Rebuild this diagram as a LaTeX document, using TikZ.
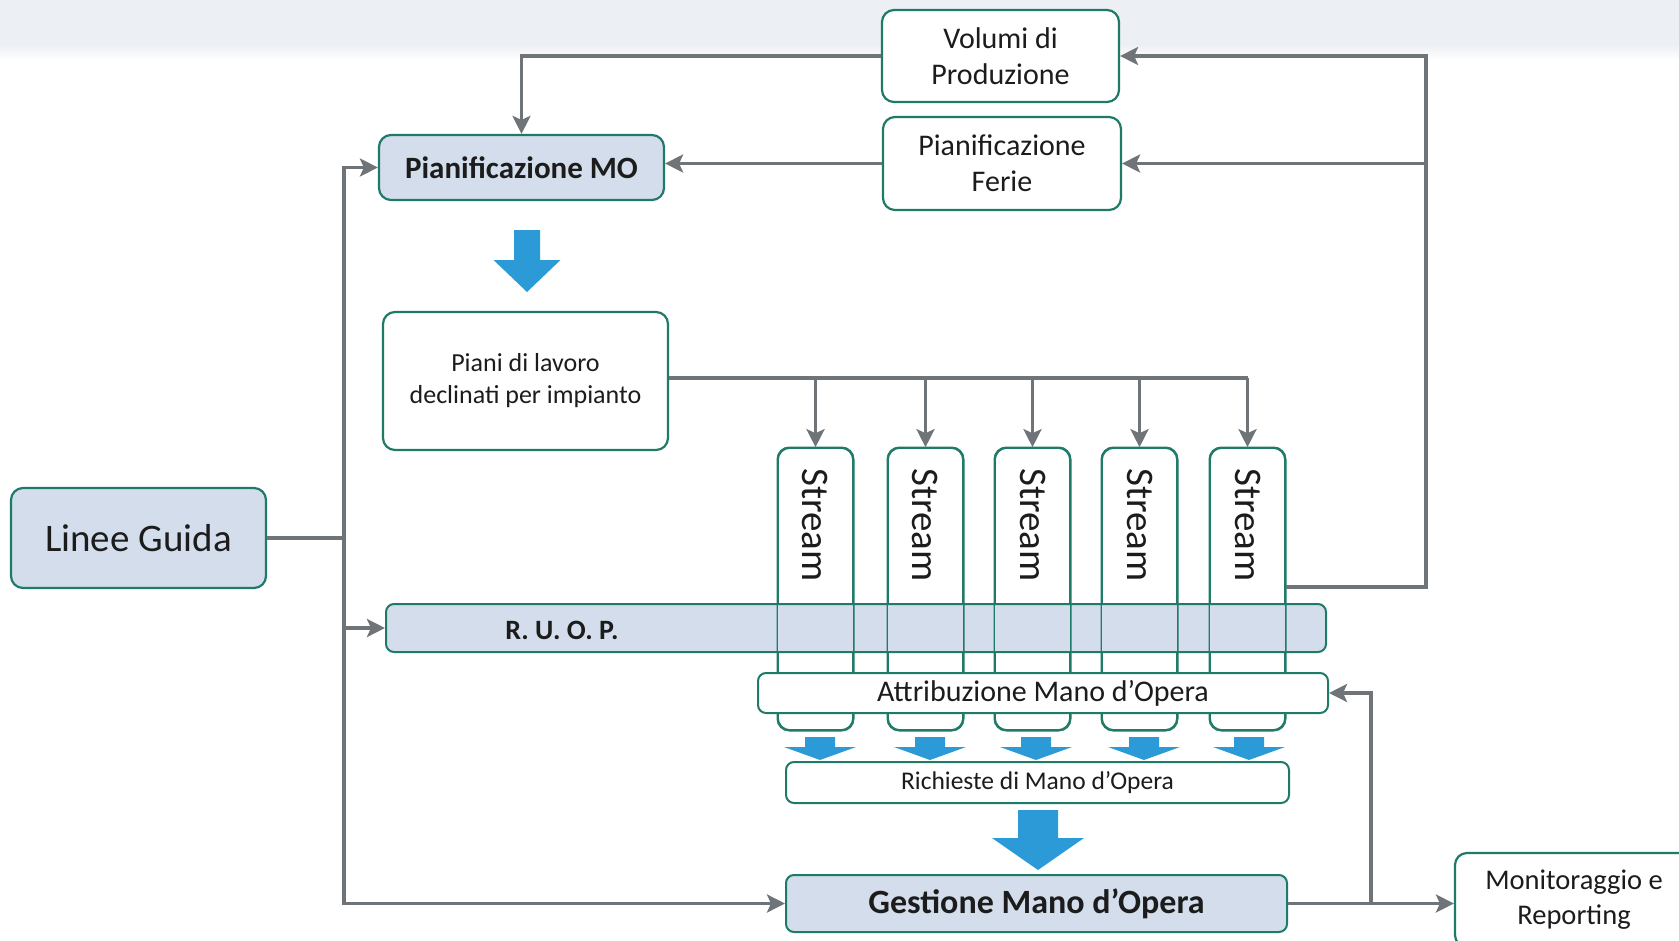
\documentclass[tikz,border=0pt]{standalone}
\usepackage{fontspec}
\setmainfont{Carlito}
\usetikzlibrary{arrows.meta,calc}
\definecolor{teal1}{HTML}{1F7A68}
\definecolor{lblue}{HTML}{D3DDEB}
\definecolor{cgray}{HTML}{6F7479}
\definecolor{abl}{HTML}{2B9AD6}
\definecolor{txt}{HTML}{1C1C1C}
\definecolor{band}{HTML}{ECEFF4}
\newcommand\blkarr[6]{%
  \fill[barrow] (#1-#3,#2) -- (#1+#3,#2) -- (#1+#3,#5) -- (#1+#4,#5) -- (#1,#6) -- (#1-#4,#5) -- (#1-#3,#5) -- cycle;}
\tikzset{
  box/.style={draw=teal1, line width=2.2pt, rounded corners=12pt, fill=white, text=txt, align=center, inner sep=0pt},
  fbox/.style={box, fill=lblue},
  streambox/.style={box, line width=1.6pt, minimum width=75pt, minimum height=282pt},
  streamline/.style={draw=teal1, line width=1.4pt, rounded corners=12pt},
  streamtext/.style={rotate=-90, text=txt, font=\fontsize{39}{44}\selectfont, inner sep=0pt},
  conn/.style={draw=cgray, line width=3.8pt},
  arr/.style={conn, -{Stealth[length=18pt,width=18pt,inset=4pt]}},
  barrow/.style={fill=abl},
}
\begin{document}
\begin{tikzpicture}[x=1pt,y=-1pt]
\useasboundingbox (0,0) rectangle (1679,940);
\fill[band] (0,0) rectangle (1679,44);
\shade[top color=band, bottom color=white] (0,44) rectangle (1679,60);

% boxes
\node[box, minimum width=237pt, minimum height=92pt, font=\fontsize{30}{36}\selectfont] (vol) at (1000.5,56) {Volumi di\\Produzione};
\node[box, minimum width=238pt, minimum height=93pt, font=\fontsize{30}{36}\selectfont] (fer) at (1002,163.5) {Pianificazione\\Ferie};
\node[fbox, minimum width=285pt, minimum height=65pt, font=\fontsize{31}{36}\selectfont\bfseries] (pmo) at (521.5,167.5) {Pianificazione MO};
\node[box, minimum width=285pt, minimum height=138pt, font=\fontsize{26}{32}\selectfont] (pia) at (525.5,381) {Piani di lavoro\\declinati per impianto};
\node[fbox, minimum width=255pt, minimum height=100pt, font=\fontsize{39}{44}\selectfont] (lg) at (138.5,538) {Linee Guida};

% streams
\foreach \n/\x in {1/815.5,2/925.5,3/1032.5,4/1139.5,5/1247.5}{
  \node[streambox] (s\n) at (\x,589) {};
}
\node[fbox, line width=2pt, rounded corners=8pt, minimum width=940pt, minimum height=48pt] (ruop) at (856,628) {};
\node[text=txt, font=\fontsize{28}{32}\selectfont\bfseries, inner sep=0pt] (ruopt) at (562,630) {R. U. O. P.};
\foreach \n in {1,...,5}{
  \draw[streamline] (s\n.south west) rectangle (s\n.north east);
  \node[streamtext] (st\n) at (s\n.center |- 0,525) {Stream};
}
\node[box, line width=2pt, rounded corners=8pt, minimum width=570pt, minimum height=40pt, font=\fontsize{30}{34}\selectfont] (att) at (1043,693) {Attribuzione Mano d’Opera};
\node[box, line width=2pt, rounded corners=8pt, minimum width=503pt, minimum height=41pt, font=\fontsize{25.5}{30}\selectfont] (ric) at (1037.5,782.5) {Richieste di Mano d’Opera};
\node[fbox, line width=2pt, rounded corners=8pt, minimum width=501pt, minimum height=57pt, font=\fontsize{34}{38}\selectfont\bfseries] (ges) at (1036.5,903.5) {Gestione Mano d’Opera};
\node[box, minimum width=238pt, minimum height=94pt, font=\fontsize{28.5}{35}\selectfont] (mon) at (1574,900) {Monitoraggio e\\Reporting};

% blue block arrows
\blkarr{527}{230}{13}{33.5}{260}{292}
\blkarr{1038}{810}{20}{46}{838}{870}
\foreach \cx in {820,930,1036,1144,1249}{
  \blkarr{\cx}{737}{15}{36}{747}{760}
}

% connectors
\draw[arr] (vol.west) -| (pmo.north);
\draw[arr] (fer.west) -- (pmo.east |- fer.west);

\coordinate (rl) at ($(s5.east)+(140,-2)$);
\draw[arr] (s5.east |- rl) -- (rl) |- (vol.east);
\draw[arr] (rl |- fer.east) -- (fer.east);

\draw[conn] (pia.east |- 0,378) -- (s5.north |- 0,378);
\foreach \n in {1,...,5}{
  \draw[arr] (s\n.north |- 0,378) -- (s\n.north);
}

\coordinate (lb) at ($(lg.east)+(77,0)$);
\draw[conn] (lg.east) -- (lb);
\draw[arr] (lb) |- (pmo.west);
\draw[arr] (lb) |- (ges.west);
\draw[arr] (lb |- ruop.west) -- (ruop.west);

\coordinate (mb) at ($(ges.east)+(83,0)$);
\draw[arr] (ges.east) -- (mon.west |- ges.east);
\draw[arr] (mb) |- (att.east);
\end{tikzpicture}
\end{document}
